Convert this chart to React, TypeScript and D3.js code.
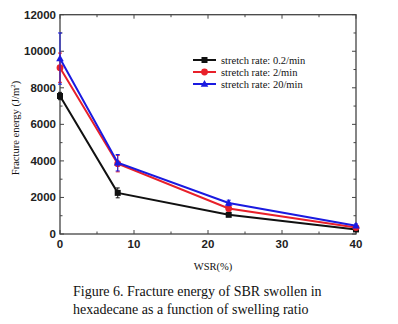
import React from "react";
import * as d3 from "d3";

const wsr = [0, 7.8, 22.8, 40];
const rate02 = [7550, 2250, 1050, 250];
const rate2 = [9100, 3850, 1400, 350];
const rate20 = [9600, 3900, 1700, 450];
const err02 = [200, 270, 80, 60];
const err2 = [800, 450, 150, 80];
const err20 = [1400, 450, 150, 100];
const seriesNames = ["stretch rate: 0.2/min", "stretch rate: 2/min", "stretch rate: 20/min"];
const seriesColors = ["#111111", "#e8202a", "#1a1ae0"];
const xTicks = [0, 10, 20, 30, 40];
const yTicks = [0, 2000, 4000, 6000, 8000, 10000, 12000];

const SERIF = "'Liberation Serif', 'Times New Roman', serif";
const SANS = "'Liberation Sans', Arial, sans-serif";

export default function App() {
  const W = 398, H = 324;
  const L = 60, R = 356, T = 14.7, B = 234;
  const x = d3.scaleLinear().domain([0, 40]).range([L, R]);
  const y = d3.scaleLinear().domain([0, 12000]).range([B, T]);
  const series = [
    { v: rate02, e: err02, shape: "square" },
    { v: rate2, e: err2, shape: "circle" },
    { v: rate20, e: err20, shape: "triangle" },
  ];
  const line = d3.line<number>().x((_, i) => x(wsr[i])).y((d) => y(d));
  const marker = (shape: string, cx: number, cy: number, color: string, key: string) => {
    if (shape === "square") return <rect key={key} x={cx - 3} y={cy - 3} width={6} height={6} fill={color} />;
    if (shape === "circle") return <circle key={key} cx={cx} cy={cy} r={3.4} fill={color} />;
    return <path key={key} d={`M${cx},${cy - 4}L${cx + 3.8},${cy + 2.8}L${cx - 3.8},${cy + 2.8}Z`} fill={color} />;
  };
  const minorX = d3.range(0, 41, 5);
  const minorY = d3.range(0, 12001, 1000);
  const axisColor = "#444";
  return (
    <svg width={W} height={H} style={{ position: "absolute", left: 0, top: 0, background: "#fff" }}>
      <rect x={0} y={0} width={W} height={H} fill="#fff" />
      <rect x={L} y={T} width={R - L} height={B - T} fill="none" stroke={axisColor} strokeWidth={1.3} />
      {minorX.map((t) => {
        const len = t % 10 === 0 ? 4 : 2.5;
        return (
          <g key={"xt" + t}>
            <line x1={x(t)} x2={x(t)} y1={B} y2={B - len} stroke={axisColor} />
            <line x1={x(t)} x2={x(t)} y1={T} y2={T + len} stroke={axisColor} />
          </g>
        );
      })}
      {minorY.map((t) => {
        const len = t % 2000 === 0 ? 4 : 2.5;
        return (
          <g key={"yt" + t}>
            <line x1={L} x2={L + len} y1={y(t)} y2={y(t)} stroke={axisColor} />
            <line x1={R} x2={R - len} y1={y(t)} y2={y(t)} stroke={axisColor} />
          </g>
        );
      })}
      {xTicks.map((t) => (
        <text key={"xl" + t} x={x(t)} y={B + 14} textAnchor="middle" fontFamily={SANS} fontSize={11.5} fontWeight="bold" fill="#222">
          {t}
        </text>
      ))}
      {yTicks.map((t) => (
        <text key={"yl" + t} x={L - 4} y={y(t) + 4} textAnchor="end" fontFamily={SANS} fontSize={11.5} fontWeight="bold" fill="#222">
          {t}
        </text>
      ))}
      {series.map((s, si) => (
        <g key={"s" + si}>
          <path d={line(s.v) || ""} fill="none" stroke={seriesColors[si]} strokeWidth={2} />
          {s.v.map((v, i) => (
            <g key={"e" + i}>
              <line x1={x(wsr[i])} x2={x(wsr[i])} y1={y(v - s.e[i])} y2={y(v + s.e[i])} stroke={seriesColors[si]} strokeWidth={1} />
              <line x1={x(wsr[i]) - 2} x2={x(wsr[i]) + 2} y1={y(v - s.e[i])} y2={y(v - s.e[i])} stroke={seriesColors[si]} strokeWidth={1} />
              <line x1={x(wsr[i]) - 2} x2={x(wsr[i]) + 2} y1={y(v + s.e[i])} y2={y(v + s.e[i])} stroke={seriesColors[si]} strokeWidth={1} />
            </g>
          ))}
          {s.v.map((v, i) => marker(s.shape, x(wsr[i]), y(v), seriesColors[si], "m" + i))}
        </g>
      ))}
      {seriesNames.map((n, i) => {
        const ly = 60 + i * 12;
        return (
          <g key={"lg" + i}>
            <line x1={193} x2={216} y1={ly} y2={ly} stroke={seriesColors[i]} strokeWidth={2} />
            {marker(series[i].shape, 204.5, ly, seriesColors[i], "lm" + i)}
            <text x={221} y={ly + 3.5} fontFamily={SERIF} fontSize={10.5} fill="#111">
              {n}
            </text>
          </g>
        );
      })}
      <text transform={`translate(19,128) rotate(-90)`} textAnchor="middle" fontFamily={SERIF} fontSize={10.5} fill="#111">
        Fracture energy (J/m<tspan dy={-4} fontSize={7}>2</tspan><tspan dy={4}>)</tspan>
      </text>
      <text x={213} y={270} textAnchor="middle" fontFamily={SERIF} fontSize={10.5} fill="#111">
        WSR(%)
      </text>
      <text x={73} y={296} fontFamily={SERIF} fontSize={14} fill="#111">
        Figure 6. Fracture energy of SBR swollen in
      </text>
      <text x={73} y={314} fontFamily={SERIF} fontSize={14} fill="#111">
        hexadecane as a function of swelling ratio
      </text>
    </svg>
  );
}
